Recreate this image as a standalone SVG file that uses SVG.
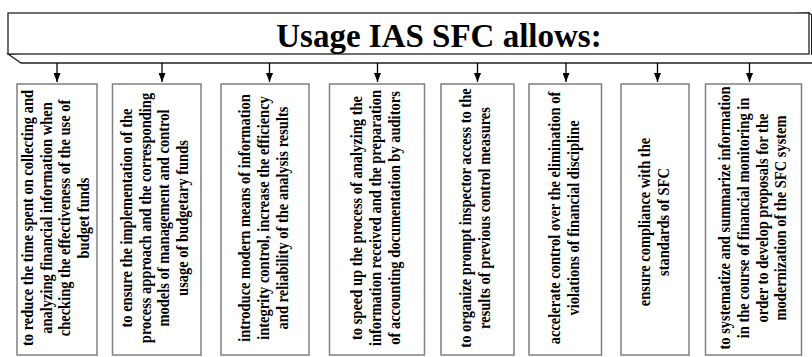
<svg xmlns="http://www.w3.org/2000/svg" width="812" height="357" viewBox="0 0 812 357">
<defs>
<marker id="ah" markerWidth="9" markerHeight="7" refX="9" refY="3.5" orient="auto" markerUnits="userSpaceOnUse" viewBox="0 0 9 7">
<path d="M0,0 L9,3.5 L0,7 Z" fill="#000"/>
</marker>
<style>
.hdr{fill:#fff;stroke:#222;stroke-width:1.3}
.box{fill:#fff;stroke:#808080;stroke-width:1.5}
.ttl{font-family:"Liberation Serif","Times New Roman",serif;font-weight:bold;font-size:33px;fill:#000;text-anchor:middle}
.t{font-family:"Liberation Serif","Times New Roman",serif;font-weight:bold;font-size:16.2px;fill:#000;text-anchor:middle}
.c{stroke:#000;stroke-width:1.3;fill:none}
</style>
</defs>
<rect width="812" height="357" fill="#fff"/>
<g id="header">
<path class="hdr" d="M8,54 L21,63 L822,63 L822,22 L809,13 Z"/>
<rect class="hdr" x="8" y="13" width="801" height="41"/>
<line x1="811.5" y1="15" x2="811.5" y2="55" stroke="#222" stroke-width="1"/>
<text class="ttl" x="439" y="47">Usage IAS SFC allows:</text>
</g>
<g id="connectors">
<line class="c" x1="57" y1="63" x2="57" y2="82" marker-end="url(#ah)"/>
<line class="c" x1="162" y1="63" x2="162" y2="82" marker-end="url(#ah)"/>
<line class="c" x1="269.5" y1="63" x2="269.5" y2="82" marker-end="url(#ah)"/>
<line class="c" x1="377.5" y1="63" x2="377.5" y2="82" marker-end="url(#ah)"/>
<line class="c" x1="477.5" y1="63" x2="477.5" y2="82" marker-end="url(#ah)"/>
<line class="c" x1="566" y1="63" x2="566" y2="82" marker-end="url(#ah)"/>
<line class="c" x1="657.5" y1="63" x2="657.5" y2="82" marker-end="url(#ah)"/>
<line class="c" x1="749.5" y1="63" x2="749.5" y2="82" marker-end="url(#ah)"/>
</g>
<g id="n1">
<rect class="box" x="17" y="84" width="80" height="271"/>
<g transform="translate(0,218) rotate(-90) scale(0.895,1)">
<text class="t" x="0" y="33">to reduce  the time spent on collecting and</text>
<text class="t" x="0" y="51.7">analyzing financial information when</text>
<text class="t" x="0" y="70.4">checking the effectiveness of the use of</text>
<text class="t" x="0" y="89">budget funds</text>
</g>
</g>
<g id="n2">
<rect class="box" x="112.5" y="84" width="88.5" height="271"/>
<g transform="translate(0,218) rotate(-90) scale(0.895,1)">
<text class="t" x="0" y="132">to ensure the implementation of the</text>
<text class="t" x="0" y="150.7">process approach and the corresponding</text>
<text class="t" x="0" y="169.4">models of management and control</text>
<text class="t" x="0" y="188">usage of budgetary funds</text>
</g>
</g>
<g id="n3">
<rect class="box" x="221" y="84" width="88" height="271"/>
<g transform="translate(0,218) rotate(-90) scale(0.895,1)">
<text class="t" x="0" y="250.5">introduce modern means of information</text>
<text class="t" x="0" y="269.2">integrity control, increase the efficiency</text>
<text class="t" x="0" y="288">and reliability of the analysis results</text>
</g>
</g>
<g id="n4">
<rect class="box" x="329.5" y="84" width="95" height="271"/>
<g transform="translate(0,218) rotate(-90) scale(0.895,1)">
<text class="t" x="0" y="362.5">to speed up the process of analyzing the</text>
<text class="t" x="0" y="381.2">information received and the preparation</text>
<text class="t" x="0" y="400">of accounting documentation by auditors</text>
</g>
</g>
<g id="n5">
<rect class="box" x="441" y="84" width="73" height="271"/>
<g transform="translate(0,218) rotate(-90) scale(0.895,1)">
<text class="t" x="0" y="471.5">to organize prompt inspector access to the</text>
<text class="t" x="0" y="490.5">results of previous control measures</text>
</g>
</g>
<g id="n6">
<rect class="box" x="529" y="84" width="72.5" height="271"/>
<g transform="translate(0,218) rotate(-90) scale(0.895,1)">
<text class="t" x="0" y="560">accelerate control over the elimination of</text>
<text class="t" x="0" y="579">violations of financial discipline</text>
</g>
</g>
<g id="n7">
<rect class="box" x="621" y="84" width="68" height="271"/>
<g transform="translate(0,222) rotate(-90) scale(0.895,1)">
<text class="t" x="0" y="650.5">ensure compliance with the</text>
<text class="t" x="0" y="669.5">standards  of SFC</text>
</g>
</g>
<g id="n8">
<rect class="box" x="705.5" y="84" width="96" height="271"/>
<g transform="translate(0,218) rotate(-90) scale(0.895,1)">
<text class="t" x="0" y="730.5">to systematize and summarize information</text>
<text class="t" x="0" y="749.2">in the course of financial monitoring in</text>
<text class="t" x="0" y="767.9">order to develop proposals for the</text>
<text class="t" x="0" y="786.5">modernization of the SFC system</text>
</g>
</g>
</svg>
